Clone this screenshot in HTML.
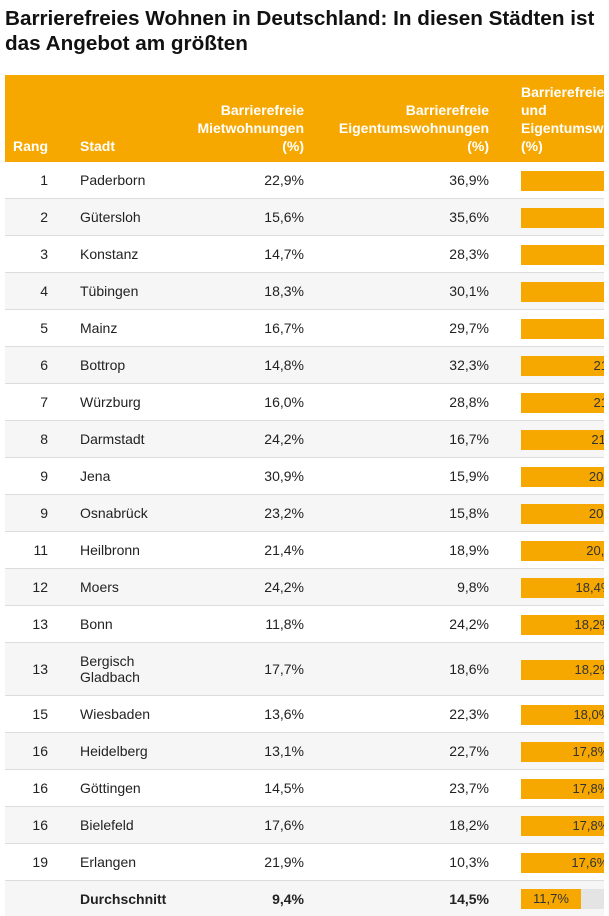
<!DOCTYPE html>
<html><head><meta charset="utf-8"><style>
body{margin:0;background:#fff;font-family:"Liberation Sans",Arial,sans-serif;color:#222;width:609px;height:916px;overflow:hidden;position:relative}
h1{position:absolute;left:5px;top:6px;margin:0;font-size:20.7px;line-height:25px;font-weight:bold;color:#111;width:620px;white-space:nowrap}
.wrap{position:absolute;left:5px;top:75px;width:599px;height:841px;overflow:hidden}
.hdr{position:absolute;left:0;top:0;width:599px;height:87px;background:#f6a800;color:#fff;font-weight:bold;font-size:14px;line-height:18px}
.hdr div{position:absolute}
.row{position:absolute;left:0;width:599px;border-bottom:1px solid #ddd;font-size:14px;box-sizing:border-box}
.row.g{background:#f6f6f6}
.row div{position:absolute}
.bar{position:absolute;left:516px;height:20px;background:#f6a800;font-size:13px;color:#333;text-align:right;line-height:20px;box-sizing:border-box;padding-right:3px}
.bg{position:absolute;left:516px;height:20px;background:#e4e4e4;width:100px}
</style></head><body>
<h1>Barrierefreies Wohnen in Deutschland: In diesen Städten ist<br>das Angebot am größten</h1>
<div class="wrap">
<div class="hdr">
<div style="left:8px;top:62px">Rang</div>
<div style="left:75px;top:62px">Stadt</div>
<div style="right:300px;top:26px;text-align:right">Barrierefreie<br>Mietwohnungen<br>(%)</div>
<div style="right:115px;top:26px;text-align:right">Barrierefreie<br>Eigentumswohnungen<br>(%)</div>
<div style="left:516px;top:8px;white-space:nowrap">Barrierefreie Miet-<br>und<br>Eigentumswohnungen<br>(%)</div>
</div>
<div id="rows"></div>
</div>
<script>
var d=[["1","Paderborn","22,9%","36,9%",28.0],["2","Gütersloh","15,6%","35,6%",26.0],["3","Konstanz","14,7%","28,3%",26.0],["4","Tübingen","18,3%","30,1%",26.0],["5","Mainz","16,7%","29,7%",26.0],["6","Bottrop","14,8%","32,3%",21.9],["7","Würzburg","16,0%","28,8%",21.9],["8","Darmstadt","24,2%","16,7%",21.5],["9","Jena","30,9%","15,9%",21.0],["9","Osnabrück","23,2%","15,8%",21.0],["11","Heilbronn","21,4%","18,9%",20.5],["12","Moers","24,2%","9,8%",18.4],["13","Bonn","11,8%","24,2%",18.2],["13","Bergisch<br>Gladbach","17,7%","18,6%",18.2],["15","Wiesbaden","13,6%","22,3%",18.0],["16","Heidelberg","13,1%","22,7%",17.8],["16","Göttingen","14,5%","23,7%",17.8],["16","Bielefeld","17,6%","18,2%",17.8],["19","Erlangen","21,9%","10,3%",17.6]];
var lab=[null,null,null,null,null,"21,3%","21,3%","21,0%","20,5%","20,5%","20,5%"];
var h='',y=87;
d.forEach(function(r,i){var ht=(i==13)?53:37;var g=(i%2==1)?' g':'';
var lh=(i==13)?'line-height:16px;top:10px':'line-height:'+ht+'px;top:0';
var v=lab[i]||r[4].toFixed(1).replace('.',',')+'%';
h+='<div class="row'+g+'" style="top:'+y+'px;height:'+ht+'px">'+
'<div style="right:556px;'+(i==13?'top:0;line-height:'+ht+'px':lh)+'">'+r[0]+'</div>'+
'<div style="left:75px;'+lh+'">'+r[1]+'</div>'+
'<div style="right:300px;line-height:'+ht+'px;top:0">'+r[2]+'</div>'+
'<div style="right:115px;line-height:'+ht+'px;top:0">'+r[3]+'</div>'+
'<div class="bar" style="top:'+(ht/2-10)+'px;width:'+(r[4]*5.13)+'px">'+v+'</div></div>';
y+=ht;});
h+='<div class="row g" style="top:'+y+'px;height:37px;font-weight:bold;border-bottom:none">'+
'<div style="left:75px;line-height:37px">Durchschnitt</div>'+
'<div style="right:300px;line-height:37px">9,4%</div>'+
'<div style="right:115px;line-height:37px">14,5%</div>'+
'<div class="bg" style="top:8px"></div>'+
'<div class="bar" style="top:8px;width:60px;text-align:center;padding:0;font-weight:normal">11,7%</div></div>';
document.getElementById('rows').innerHTML=h;
</script>
</body></html>
